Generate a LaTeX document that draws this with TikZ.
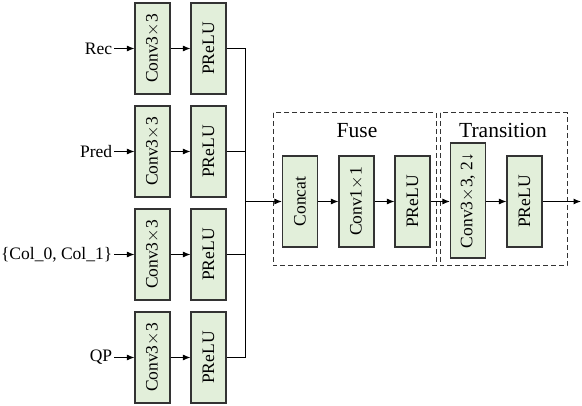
\documentclass[tikz,border=0pt]{standalone}
\usepackage{fontspec}
\setmainfont{Liberation Serif}
\usepackage{graphicx}
\usetikzlibrary{positioning,arrows.meta}
\definecolor{blockgreen}{RGB}{226,239,218}

\begin{document}
\begin{tikzpicture}[x=1pt,y=-1pt,
	block/.style={draw=black!80,line width=1.2pt,fill=blockgreen,minimum width=35pt,minimum height=91pt,inner sep=0pt,font=\fontsize{17.5}{20}\selectfont},
	flow/.style={-{Latex[length=7.5pt,width=6pt]},line width=1pt},
	wire/.style={line width=1pt},
	group/.style={draw=black!80,line width=1pt,dash pattern=on 5pt off 3pt},
	title/.style={font=\fontsize{21.5}{24}\selectfont}]
	\useasboundingbox (0,0) rectangle (582,406);
	\foreach \i / \y / \lab in {1/48.5/Rec,2/151.5/Pred,3/254.5/{\{Col\_0, Col\_1\}},4/357.5/QP} {
		\node[block] (conv\i) at (152.5,\y) {\rotatebox{90}{Conv3$\times$3}};
		\node[block] (prelu\i) at (208.5,\y) {\rotatebox{90}{PReLU}};
		\node[left=20pt of conv\i,inner sep=2pt,font=\fontsize{17.5}{20}\selectfont] (in\i) {\lab};
		\draw[flow] (in\i) -- (conv\i);
		\draw[flow] (conv\i) -- (prelu\i);
	}
	\draw[wire] (prelu1.east) -- ++(19,0) |- (prelu4.east);
	\draw[wire] (prelu2.east) -- ++(19,0);
	\draw[wire] (prelu3.east) -- ++(19,0);
	\coordinate (join) at (245,201.5);
	% fuse block
	\draw[group] (273,113) rectangle (436,266);
	\node[title] (fuse) at (357,131) {Fuse};
	\node[block] (concat) at (300,201.5) {\rotatebox{90}{Concat}};
	\node[block] (conv1x1) at (356.5,201.5) {\rotatebox{90}{Conv1$\times$1}};
	\node[block] (fprelu) at (412.5,201.5) {\rotatebox{90}{PReLU}};
	% transition block
	\draw[group] (440,113) rectangle (567,266);
	\node[title] (trans) at (503,130) {Transition};
	\node[block,minimum height=115pt] (tconv) at (468,200.5) {\rotatebox{90}{Conv3$\times$3, 2↓}};
	\node[block] (tprelu) at (524.5,201.5) {\rotatebox{90}{PReLU}};
	\coordinate (out) at (581,201.5);
	\draw[flow] (join) -- (concat);
	\draw[flow] (concat) -- (conv1x1);
	\draw[flow] (conv1x1) -- (fprelu);
	\draw[flow] (fprelu) -- (fprelu -| tconv.west);
	\draw[flow] (tconv.east |- tprelu) -- (tprelu);
	\draw[flow] (tprelu) -- (out);
\end{tikzpicture}
\end{document}
